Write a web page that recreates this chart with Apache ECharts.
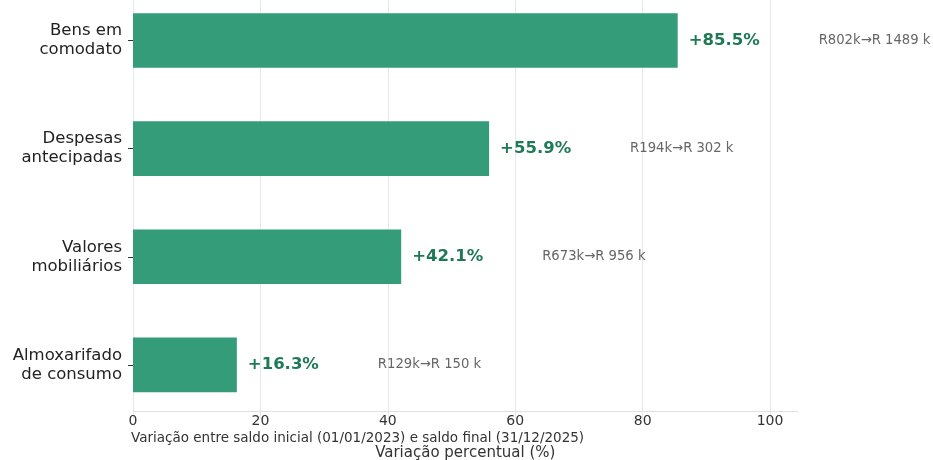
<!DOCTYPE html>
<html>
<head>
<meta charset="utf-8">
<script src="https://cdn.jsdelivr.net/npm/echarts@6/dist/echarts.min.js"></script>
<style>
  html, body { margin: 0; padding: 0; background: #ffffff; overflow: hidden; }
  /* canvas starts a little above the page so the top band is clipped */
  #chart { width: 933px; height: 474px; margin-top: -14px; }
</style>
</head>
<body>
<div id="chart"></div>
<script>
// Account groups (top to bottom)
const categories = [
  'Bens em\ncomodato',
  'Despesas\nantecipadas',
  'Valores\nmobiliários',
  'Almoxarifado\nde consumo'
];
// Percentage change between opening and closing balance
const variation = [85.5, 55.9, 42.1, 16.3];
// Opening and closing balances (thousands)
const saldoInicial = ['802', '194', '673', '129'];
const saldoFinal = ['1489', '302', '956', '150'];
// Axis ticks
const xTicks = [0, 20, 40, 60, 80, 100];
const xMax = 104.31;

const FONT = "'DejaVu Sans', Verdana, sans-serif";
const gridColors = xTicks.map(() => '#e8e8e8').concat(['rgba(0,0,0,0)']);

const chart = echarts.init(document.getElementById('chart'), null, { renderer: 'canvas' });

chart.setOption({
  backgroundColor: '#ffffff',
  animation: false,
  textStyle: { fontFamily: FONT },
  title: {
    text: 'Variação entre saldo inicial (01/01/2023) e saldo final (31/12/2025)',
    left: 126,
    top: 440,
    textStyle: { fontFamily: FONT, fontSize: 13.5, fontWeight: 'normal', color: '#333' }
  },
  grid: [
    { left: 133, right: 135.5, top: 0.4, bottom: 41, containLabel: false },
    { left: 133, right: 135.5, top: 425, height: 1, containLabel: false }
  ],
  xAxis: [
    {
      gridIndex: 0,
      type: 'value',
      min: 0,
      max: xMax,
      interval: 20,
      axisLine: { show: false },
      axisTick: { show: false },
      axisLabel: { show: false },
      splitLine: { show: true, lineStyle: { color: gridColors, width: 1 } }
    },
    {
      gridIndex: 1,
      type: 'value',
      min: 0,
      max: xMax,
      interval: 20,
      axisLine: { show: true, lineStyle: { color: '#e0e0e0', width: 1 } },
      axisTick: { show: false },
      splitLine: { show: false },
      axisLabel: {
        showMaxLabel: false,
        margin: 3,
        fontFamily: FONT,
        fontSize: 14,
        color: '#333'
      },
      name: 'Variação percentual (%)',
      nameLocation: 'middle',
      nameGap: 34,
      nameTextStyle: { fontFamily: FONT, fontSize: 15, color: '#333' }
    }
  ],
  yAxis: [
    {
      gridIndex: 0,
      type: 'category',
      data: categories,
      inverse: true,
      axisLine: { show: false },
      axisTick: { show: true, alignWithLabel: true, length: 5, lineStyle: { color: '#333', width: 1 } },
      axisLabel: {
        margin: 11,
        fontFamily: FONT,
        fontSize: 16.5,
        lineHeight: 19,
        padding: [4, 0, 0, 0],
        color: '#222',
        align: 'right'
      },
      splitLine: { show: false }
    },
    {
      gridIndex: 1,
      type: 'value',
      show: false
    }
  ],
  series: [
    {
      type: 'bar',
      xAxisIndex: 0,
      yAxisIndex: 0,
      data: variation,
      barWidth: '50.5%',
      itemStyle: { color: '#349c79' },
      label: {
        show: true,
        position: 'right',
        distance: 11,
        formatter: (p) => {
          const i = p.dataIndex;
          return '{p|+' + variation[i].toFixed(1) + '%}{g|R' + saldoInicial[i] + 'k→R ' + saldoFinal[i] + ' k}';
        },
        rich: {
          p: { width: 130, align: 'left', fontFamily: FONT, fontSize: 16.5, fontWeight: 'bold', color: '#1e7a55' },
          g: { fontFamily: FONT, fontSize: 13.2, color: '#666' }
        }
      }
    }
  ]
});
</script>
</body>
</html>
